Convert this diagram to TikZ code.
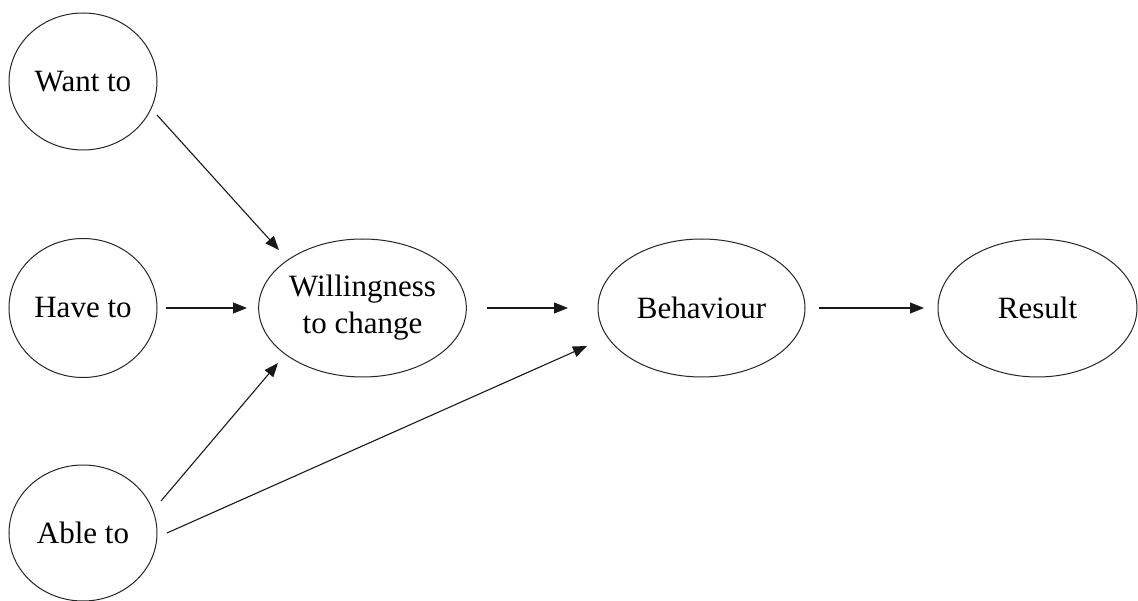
\documentclass[tikz,border=0pt]{standalone}
\usepackage{fontspec}
\setmainfont{Liberation Serif}
\usetikzlibrary{shapes.geometric,arrows.meta,calc}

\tikzset{
  factor/.style={draw=black!85, line width=1pt, ellipse, inner sep=0pt,
    font=\fontsize{31}{37}\selectfont, align=center},
  link/.style={draw=black!90, line width=1.1pt,
    -{Triangle[length=14pt,width=11pt]}}
}

\begin{document}
\begin{tikzpicture}[x=1pt,y=-1pt]
  \useasboundingbox[fill=white] (0,0) rectangle (1138,601);

  % drivers on the left
  \node[factor, minimum width=148, minimum height=137] (want) at (83,81.5) {Want to};
  \node[factor, minimum width=148, minimum height=139] (have) at (83,308) {Have to};
  \node[factor, minimum width=148, minimum height=136] (able) at (83,533) {Able to};

  % main chain
  \node[factor, minimum width=207, minimum height=138] (will) at (362.5,308) {Willingness\\to change};
  \node[factor, minimum width=207, minimum height=138] (beh) at (701.5,308) {Behaviour};
  \node[factor, minimum width=199, minimum height=138] (res) at (1037.5,308) {Result};

  % influences
  \draw[link] ($(want)+(74,33.5)$) -- ($(will)+(-83.5,-58)$);
  \draw[link] ($(have)+(83,0)$) -- ($(will)+(-115.5,0)$);
  \draw[link] ($(able)+(78,-32)$) -- ($(will)+(-84.5,55)$);
  \draw[link] ($(able)+(84,0)$) -- ($(beh)+(-114.5,38)$);
  \draw[link] ($(will)+(124.5,0)$) -- ($(beh)+(-133.5,0)$);
  \draw[link] ($(beh)+(117.5,0)$) -- ($(res)+(-113.5,0)$);
\end{tikzpicture}
\end{document}
